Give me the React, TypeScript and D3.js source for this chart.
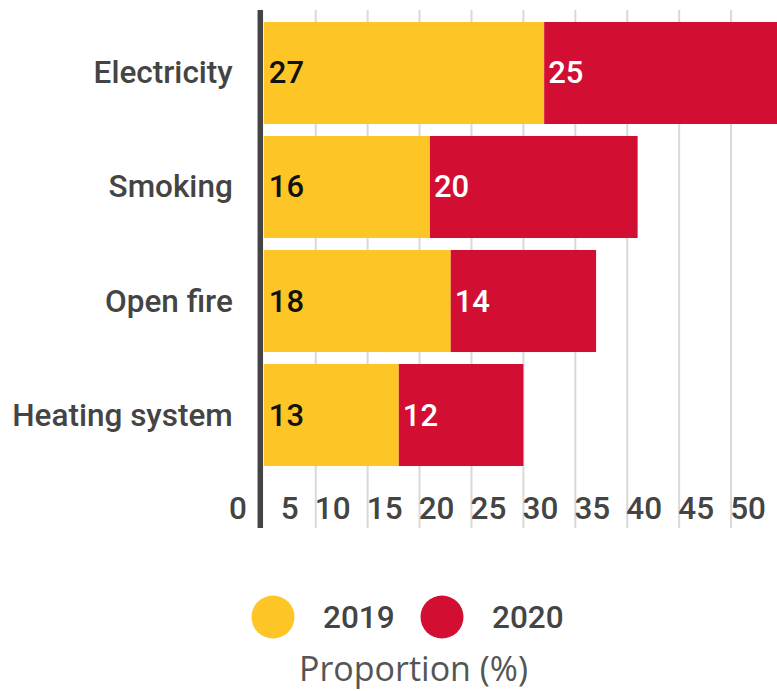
import React from 'react';
import * as d3 from 'd3';

const categories = ['Electricity', 'Smoking', 'Open fire', 'Heating system'];
const values2019 = [27, 16, 18, 13];
const values2020 = [25, 20, 14, 12];
const seriesNames = ['2019', '2020'];
const tickValues = [0, 5, 10, 15, 20, 25, 30, 35, 40, 45, 50];

const COLORS = ['#FDC526', '#D20F33'];
const LABEL_COLORS = ['#111', '#fff'];
const FONT = 'Roboto, sans-serif';
const FS = 31.5;
const FW = 500;

const width = 777;
const height = 691;

const App: React.FC = () => {
  const x = d3.scaleLinear().domain([0, 50]).range([263.8, 783]);
  const y = d3
    .scaleBand<string>()
    .domain(categories)
    .range([10, 478])
    .paddingInner(0.105)
    .paddingOuter(0.105);

  const rows = categories.map((c, i) => ({ cat: c, v: [values2019[i], values2020[i]] }));
  const gridTop = 10;
  const gridBottom = 528;

  return (
    <svg
      width={width}
      height={height}
      style={{ position: 'absolute', left: 0, top: 0, background: '#fff' }}
    >
      {/* gridlines */}
      {tickValues.filter(t => t > 0).map(t => (
        <line
          key={`g${t}`}
          x1={x(t)}
          x2={x(t)}
          y1={gridTop}
          y2={gridBottom}
          stroke="#d9d9d9"
          strokeWidth={2}
        />
      ))}

      {/* stacked bars */}
      {rows.map(r => {
        let acc = 0;
        return (
          <g key={r.cat}>
            {r.v.map((v, si) => {
              const x0 = x(acc);
              acc += v;
              const x1 = x(acc);
              const yy = y(r.cat)!;
              return (
                <g key={si}>
                  <rect x={x0} y={yy} width={x1 - x0} height={y.bandwidth()} fill={COLORS[si]} />
                  <text
                    x={x0 + (si === 0 ? 5 : 4)}
                    y={yy + y.bandwidth() / 2 + 10.5}
                    fill={LABEL_COLORS[si]}
                    fontFamily={FONT}
                    fontWeight={FW}
                    fontSize={31}
                  >
                    {v}
                  </text>
                </g>
              );
            })}
            <text
              x={x(0) - 31}
              y={y(r.cat)! + y.bandwidth() / 2 + 10.5}
              textAnchor="end"
              fill="#444"
              fontFamily={FONT}
              fontWeight={FW}
              fontSize={FS}
            >
              {r.cat}
            </text>
          </g>
        );
      })}

      {/* axis line */}
      <line
        x1={x(0) - 3.5}
        x2={x(0) - 3.5}
        y1={gridTop}
        y2={gridBottom}
        stroke="#444"
        strokeWidth={5.5}
      />

      {/* tick labels */}
      {tickValues.map(t => (
        <text
          key={`t${t}`}
          x={x(t) - 17}
          y={518.5}
          textAnchor="end"
          fill="#444"
          fontFamily={FONT}
          fontWeight={FW}
          fontSize={FS}
        >
          {t}
        </text>
      ))}

      {/* legend */}
      {seriesNames.map((s, i) => {
        const cx = 273 + i * 169;
        return (
          <g key={s}>
            <circle cx={cx} cy={617} r={21.5} fill={COLORS[i]} />
            <text
              x={cx + 50}
              y={628}
              fill="#444"
              fontFamily={FONT}
              fontWeight={FW}
              fontSize={FS}
            >
              {s}
            </text>
          </g>
        );
      })}

      <text
        x={413.5}
        y={681}
        textAnchor="middle"
        fill="#555"
        fontFamily="'Open Sans', sans-serif"
        fontSize={34}
      >
        Proportion (%)
      </text>
    </svg>
  );
};

export default App;
